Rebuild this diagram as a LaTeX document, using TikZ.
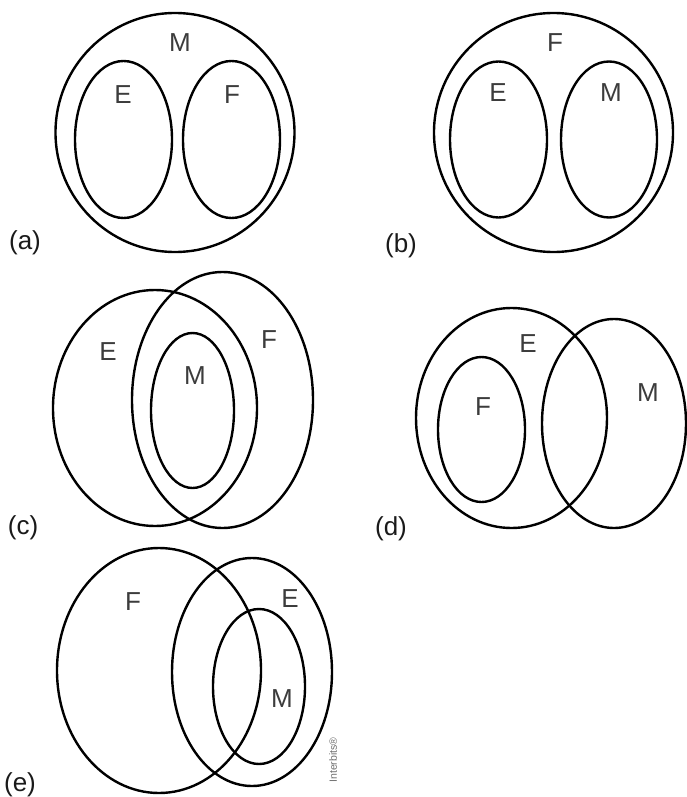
\documentclass[tikz,border=0pt]{standalone}
\usepackage{fontspec}
\setmainfont{Liberation Sans}
\usepackage{tikz}
\usetikzlibrary{positioning}
\definecolor{setLine}{HTML}{000000}
\definecolor{setName}{HTML}{3c3c3c}
\definecolor{panelTag}{HTML}{1a1a1a}
\definecolor{creditGray}{HTML}{707070}

\begin{document}
\begin{tikzpicture}[x=1pt,y=-1pt,set/.style={draw=setLine, line width=2.4pt},setlbl/.style={font=\fontsize{26}{31}\selectfont, text=setName, inner sep=0pt},tag/.style={font=\fontsize{26}{31}\selectfont, text=panelTag, inner sep=0pt}]
\useasboundingbox (0,0) rectangle (686,797);
\draw[set] (175,132.5) ellipse [x radius=119.5pt, y radius=119.5pt];
\draw[set] (123.5,139.5) ellipse [x radius=48.5pt, y radius=78.5pt];
\draw[set] (231.5,139.5) ellipse [x radius=48.5pt, y radius=78.5pt];
\node[setlbl] (aM) at (180,43) {M};
\node[setlbl] (aE) at (123,95) {E};
\node[setlbl] (aF) at (232,95) {F};
\node[tag] (ta) at (25,243) {(a)};
\draw[set] (553.5,132.5) ellipse [x radius=119.5pt, y radius=119.5pt];
\draw[set] (498.5,139.5) ellipse [x radius=48.5pt, y radius=78pt];
\draw[set] (609,139.5) ellipse [x radius=48pt, y radius=78pt];
\node[setlbl] (bF) at (555,43) {F};
\node[setlbl] (bE) at (498,93) {E};
\node[setlbl] (bM) at (611,93) {M};
\node[tag] (tb) at (401,246) {(b)};
\draw[set] (155,408) ellipse [x radius=102pt, y radius=118pt];
\draw[set] (222.5,400) ellipse [x radius=90.5pt, y radius=128pt];
\draw[set] (192.5,410.5) ellipse [x radius=41.5pt, y radius=77.5pt];
\node[setlbl] (cE) at (108,352) {E};
\node[setlbl] (cF) at (269,340) {F};
\node[setlbl] (cM) at (195,376) {M};
\node[tag] (tc) at (23,528) {(c)};
\draw[set] (511.5,418) ellipse [x radius=95.5pt, y radius=110pt];
\draw[set] (481.5,429.5) ellipse [x radius=43.5pt, y radius=72.5pt];
\draw[set] (614,423.5) ellipse [x radius=72pt, y radius=104.5pt];
\node[setlbl] (dE) at (528,344) {E};
\node[setlbl] (dF) at (483,407) {F};
\node[setlbl] (dM) at (648,393) {M};
\node[tag] (td) at (391,529) {(d)};
\draw[set] (159,670.5) ellipse [x radius=102pt, y radius=122.5pt];
\draw[set] (252,672) ellipse [x radius=80pt, y radius=114pt];
\draw[set] (259,686.5) ellipse [x radius=46pt, y radius=77.5pt];
\node[setlbl] (eF) at (133,602) {F};
\node[setlbl] (eE) at (290,599) {E};
\node[setlbl] (eM) at (282,699) {M};
\node[tag] (te) at (20,785) {(e)};
\node[font=\fontsize{10.5}{12}\selectfont, text=creditGray, inner sep=0pt, rotate=90] (credit) at (333,760) {Interbits®};
\end{tikzpicture}
\end{document}
